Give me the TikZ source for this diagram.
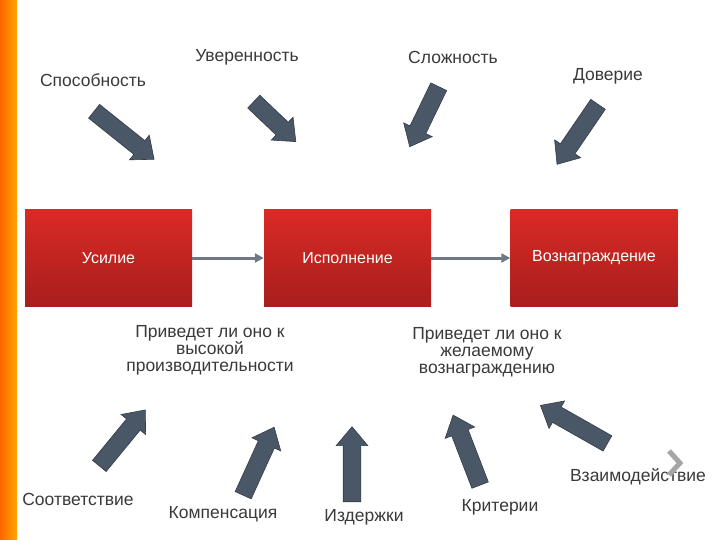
\documentclass[tikz,border=0pt]{standalone}
\usepackage{fontspec}
\setmainfont{Liberation Sans}
\usetikzlibrary{shapes.arrows,calc,arrows.meta}
\definecolor{slate}{HTML}{4A5766}
\definecolor{txt}{HTML}{3A3A3A}
\definecolor{rtop}{HTML}{DA2A24}
\definecolor{rbot}{HTML}{A81E1E}
\tikzset{
 barr/.style={single arrow, draw=slate!70!black, fill=slate, inner sep=8.5pt, single arrow head extend=7pt, single arrow tip angle=80, anchor=center, line width=0.6pt},
 redbox/.style={draw=none, top color=rtop, bottom color=rbot, minimum width=167pt, minimum height=96pt, text=white, font=\fontsize{16}{18}\selectfont},
 lbl/.style={text=txt, font=\fontsize{17.5}{19}\selectfont, align=center},
 conn/.style={draw=slate!80, line width=3pt, -{Triangle[length=9pt,width=9pt]}}
}
\newcommand\barrow[3]{\path let \p1=(#2), \p2=(#3), \n1={atan2(\y2-\y1,\x2-\x1)}, \n2={veclen(\x2-\x1,\y2-\y1)} in node[barr, rotate=\n1, minimum height=\n2] (#1) at ($(#2)!0.5!(#3)$) {};}
\begin{document}
\begin{tikzpicture}[x=1pt,y=-1pt]
\useasboundingbox (0,0) rectangle (720,540);
\fill[white] (0,0) rectangle (720,540);
\shade[left color=orange!80!red, right color=orange!70!yellow] (0,0) rectangle (17,540);
\node[redbox] (b1) at (108.5,258) {Усилие};
\node[redbox] (b2) at (347.5,258) {Исполнение};
\node[redbox] (b3) at (594,258) {Вознаграждение};
\draw[conn] (b1.east) -- (b2.west);
\draw[conn] (b2.east) -- (b3.west);
\node[lbl] (t1) at (93,80) {Способность};
\node[lbl] (t2) at (247,57) {Уверенность};
\node[lbl] (t3) at (453,57) {Сложность};
\node[lbl] (t4) at (608,76) {Доверие};
\node[lbl] (q1) at (210,350) {Приведет ли оно к\\[-2pt]высокой\\[-2pt]производительности};
\node[lbl] (q2) at (487,352) {Приведет ли оно к\\[-2pt]желаемому\\[-2pt]вознаграждению};
\node[lbl] (s1) at (78,499) {Соответствие};
\node[lbl] (s2) at (223,514) {Компенсация};
\node[lbl] (s3) at (364,517) {Издержки};
\node[lbl] (s4) at (500,507) {Критерии};
\node[lbl] (s5) at (638,477) {Взаимодействие};
\coordinate (a1s) at (90,108); \coordinate (a1e) at (150,156);
\coordinate (a2s) at (250,98); \coordinate (a2e) at (292,138);
\coordinate (a3s) at (441,82); \coordinate (a3e) at (412,142);
\coordinate (a4s) at (601,100); \coordinate (a4e) at (560,160);
\coordinate (a5s) at (96,470); \coordinate (a5e) at (142,414);
\coordinate (a6s) at (241,500); \coordinate (a6e) at (272,432);
\coordinate (a7s) at (352,507); \coordinate (a7e) at (352,432);
\coordinate (a8s) at (482,490); \coordinate (a8e) at (455,420);
\coordinate (a9s) at (612,446); \coordinate (a9e) at (545,408);
\barrow{A1}{a1s}{a1e}
\barrow{A2}{a2s}{a2e}
\barrow{A3}{a3s}{a3e}
\barrow{A4}{a4s}{a4e}
\barrow{A5}{a5s}{a5e}
\barrow{A6}{a6s}{a6e}
\barrow{A7}{a7s}{a7e}
\barrow{A8}{a8s}{a8e}
\barrow{A9}{a9s}{a9e}
\draw[gray!70, line width=5pt] (669,451) -- (680,463) -- (669,475);
\end{tikzpicture}
\end{document}
